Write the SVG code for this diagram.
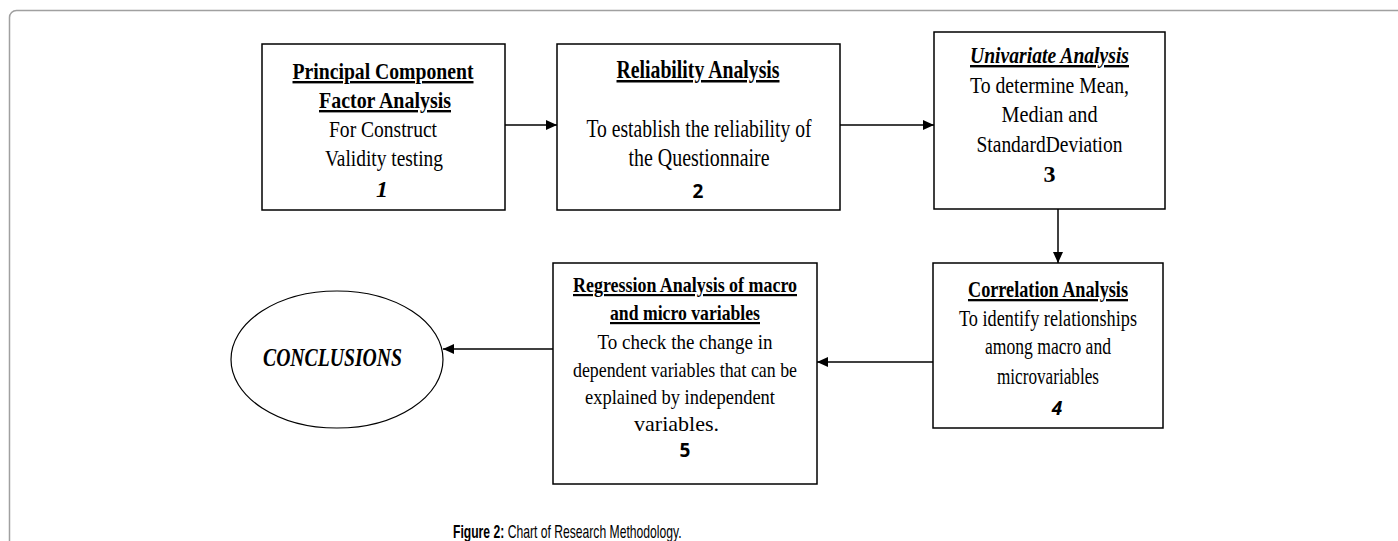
<svg xmlns="http://www.w3.org/2000/svg" width="1398" height="541" viewBox="0 0 1398 541">
<style>
.box{fill:#fff;stroke:#000;stroke-width:1.5}
.t{font-family:"Liberation Serif","Times New Roman",serif;font-size:24px;fill:#000;text-anchor:middle}
.s{font-size:22px}
.m{font-size:23px}
.l{font-size:25px}
.b{font-weight:bold}
.u{text-decoration:underline}
.i{font-style:italic}
.n{font-family:"Open Sans","Liberation Sans",Arial,sans-serif;font-size:19px;font-weight:bold;fill:#000;text-anchor:middle}
.c{stroke:#000;stroke-width:1.5;fill:none;marker-end:url(#ah)}
.cap{font-family:"Liberation Sans",Arial,sans-serif;font-size:18px;fill:#000}
</style>
<defs>
<marker id="ah" markerUnits="userSpaceOnUse" markerWidth="12" markerHeight="12" refX="11" refY="6" orient="auto">
<path d="M0,1 L11,6 L0,11 z" fill="#000"/>
</marker>
</defs>
<rect x="9.5" y="10.5" width="1400" height="545" rx="7" fill="#fff" stroke="#a0a0a0" stroke-width="1.5"/>

<g id="connectors">
<line class="c" x1="505" y1="125" x2="557" y2="125"/>
<line class="c" x1="840" y1="125" x2="934" y2="125"/>
<line class="c" x1="1058" y1="209" x2="1058" y2="263"/>
<line class="c" x1="933" y1="362" x2="817" y2="362"/>
<line class="c" x1="553" y1="349" x2="443" y2="349"/>
</g>

<g id="node1">
<rect class="box" x="262" y="44" width="243" height="166"/>
<text class="t b u" x="383" y="79" textLength="181" lengthAdjust="spacingAndGlyphs">Principal Component</text>
<text class="t b u" x="385" y="108" textLength="132" lengthAdjust="spacingAndGlyphs">Factor Analysis</text>
<text class="t" x="383" y="137" textLength="108" lengthAdjust="spacingAndGlyphs">For Construct</text>
<text class="t" x="384" y="166" textLength="118" lengthAdjust="spacingAndGlyphs">Validity testing</text>
<text class="t b i" x="382" y="197">1</text>
</g>

<g id="node2">
<rect class="box" x="557" y="44" width="283" height="166"/>
<text class="t l b u" x="698" y="78" textLength="163" lengthAdjust="spacingAndGlyphs">Reliability Analysis</text>
<text class="t l" x="699" y="137" textLength="225" lengthAdjust="spacingAndGlyphs">To establish the reliability of</text>
<text class="t l" x="699" y="166" textLength="141" lengthAdjust="spacingAndGlyphs">the Questionnaire</text>
<text class="n" x="698" y="198">2</text>
</g>

<g id="node3">
<rect class="box" x="934" y="32" width="231" height="177"/>
<text class="t b i u" x="1049.5" y="63" textLength="159" lengthAdjust="spacingAndGlyphs">Univariate Analysis</text>
<text class="t" x="1049.5" y="93" textLength="159" lengthAdjust="spacingAndGlyphs">To determine Mean,</text>
<text class="t" x="1049.5" y="122" textLength="96" lengthAdjust="spacingAndGlyphs">Median and</text>
<text class="t" x="1049.5" y="152" textLength="146" lengthAdjust="spacingAndGlyphs">StandardDeviation</text>
<text class="t b" x="1049.5" y="182">3</text>
</g>

<g id="node4">
<rect class="box" x="933" y="263" width="230" height="165"/>
<text class="t m b u" x="1048" y="297" textLength="160" lengthAdjust="spacingAndGlyphs">Correlation Analysis</text>
<text class="t m" x="1048" y="326" textLength="178" lengthAdjust="spacingAndGlyphs">To identify relationships</text>
<text class="t m" x="1048" y="354" textLength="126" lengthAdjust="spacingAndGlyphs">among macro and</text>
<text class="t m" x="1048" y="384" textLength="102" lengthAdjust="spacingAndGlyphs">microvariables</text>
<text class="n i" x="1057" y="415">4</text>
</g>

<g id="node5">
<rect class="box" x="553" y="263" width="264" height="221"/>
<text class="t s b u" x="685" y="292" textLength="224" lengthAdjust="spacingAndGlyphs">Regression Analysis of macro</text>
<text class="t s b u" x="685" y="320" textLength="150" lengthAdjust="spacingAndGlyphs">and micro variables</text>
<text class="t s" x="685" y="349" textLength="175" lengthAdjust="spacingAndGlyphs">To check the change in</text>
<text class="t s" x="685" y="377" textLength="224" lengthAdjust="spacingAndGlyphs">dependent variables that can be</text>
<text class="t s" x="680" y="404" textLength="190" lengthAdjust="spacingAndGlyphs">explained by independent</text>
<text class="t s" x="676.5" y="431">variables.</text>
<text class="n" x="685" y="457">5</text>
</g>

<g id="conclusions">
<ellipse cx="337" cy="359.5" rx="106" ry="68.5" fill="#fff" stroke="#000" stroke-width="1.2"/>
<text class="t l b i" x="332.5" y="366" textLength="139" lengthAdjust="spacingAndGlyphs">CONCLUSIONS</text>
</g>

<text class="cap" transform="translate(453,538) scale(0.675,1)" x="0" y="0"><tspan font-weight="bold">Figure 2:</tspan> Chart of Research Methodology.</text>
</svg>
